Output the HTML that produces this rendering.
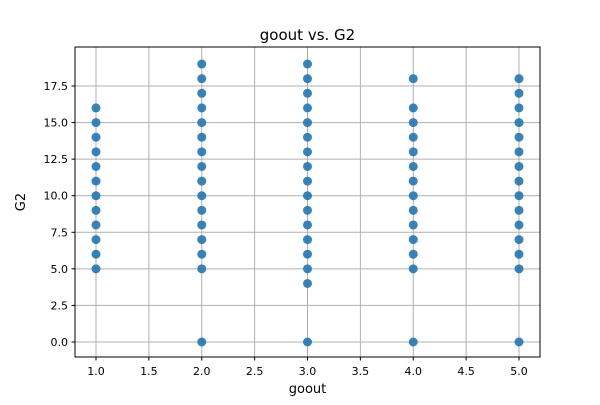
<!DOCTYPE html>
<html><head><meta charset="utf-8"><style>
body{margin:0;background:#fff;font-family:"Liberation Sans","DejaVu Sans",sans-serif}
</style></head><body>
<svg id="chart" width="600" height="400" xmlns="http://www.w3.org/2000/svg" font-family="DejaVu Sans, Liberation Sans, sans-serif">
<rect width="600" height="400" fill="#fff"/>
<g id="grid"></g>
<g id="points"></g>
<rect x="75" y="47" width="465" height="310" fill="none" stroke="#000" stroke-width="1"/>
<g id="ticks"></g>
<text x="307.5" y="40" text-anchor="middle" font-size="15">goout vs. G2</text>
<text x="307.5" y="393" text-anchor="middle" font-size="13">goout</text>
<text x="25" y="202" text-anchor="middle" font-size="13" transform="rotate(-90 25 202)">G2</text>
</svg>
<script>
const xTicks=[1.0,1.5,2.0,2.5,3.0,3.5,4.0,4.5,5.0];
const yTicks=[0,2.5,5,7.5,10,12.5,15,17.5];
const gooutValues=[1,2,3,4,5];
const g2At1=[5,6,7,8,9,10,11,12,13,14,15,16];
const g2At2=[0,5,6,7,8,9,10,11,12,13,14,15,16,17,18,19];
const g2At3=[0,4,5,6,7,8,9,10,11,12,13,14,15,16,17,18,19];
const g2At4=[0,5,6,7,8,9,10,11,12,13,14,15,16,18];
const g2At5=[0,5,6,7,8,9,10,11,12,13,14,15,16,17,18];
const series=[g2At1,g2At2,g2At3,g2At4,g2At5];
const NS="http://www.w3.org/2000/svg";
const xs=v=>96+(v-1)*105.75;
const ys=v=>342-v*14.629;
const grid=document.getElementById('grid'),ticks=document.getElementById('ticks'),pts=document.getElementById('points');
function mk(tag,attrs,parent){const e=document.createElementNS(NS,tag);for(const k in attrs)e.setAttribute(k,attrs[k]);parent.appendChild(e);return e;}
xTicks.forEach(t=>{const x=xs(t);
const l=mk('line',{x1:x,x2:x,y1:47,y2:357,stroke:'#b0b0b0','stroke-width':1},grid);


mk('line',{x1:x,x2:x,y1:357,y2:360.5,stroke:'#000'},ticks);
const tx=mk('text',{x:x,y:375,'text-anchor':'middle','font-size':11},ticks);tx.textContent=t.toFixed(1);

});
yTicks.forEach(t=>{const y=ys(t);
const l=mk('line',{x1:75,x2:540,y1:y,y2:y,stroke:'#b0b0b0','stroke-width':1},grid);


mk('line',{x1:71.5,x2:75,y1:y,y2:y,stroke:'#000'},ticks);
const tx=mk('text',{x:68,y:y+4,'text-anchor':'end','font-size':11},ticks);tx.textContent=t.toFixed(1);

});
gooutValues.forEach((g,i)=>{series[i].forEach(v=>{
const c=mk('circle',{cx:xs(g),cy:ys(v),r:4.5,fill:'#1f77b4','fill-opacity':0.9},pts);

});});
</script>
</body></html>
